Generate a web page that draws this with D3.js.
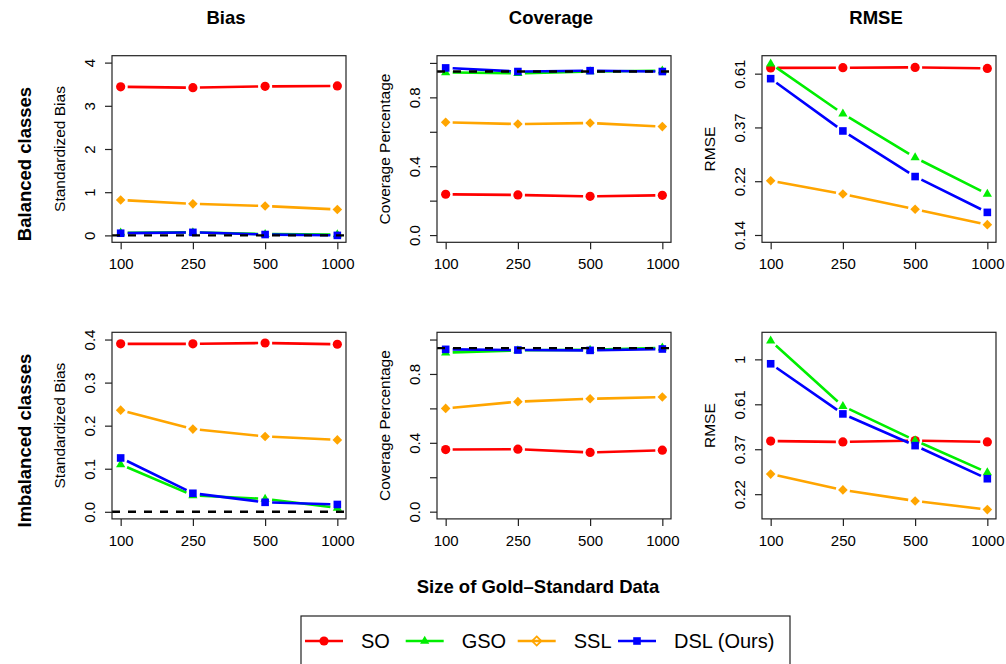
<!DOCTYPE html>
<html>
<head>
<meta charset="utf-8">
<script src="https://cdn.jsdelivr.net/npm/d3@7"></script>
<style>
  body { margin: 0; background: #fff; }
  svg { font-family: "Liberation Sans", Arial, Helvetica, sans-serif; }
</style>
</head>
<body>
<div id="chart"></div>
<script>
// data
var sizes = ['100', '250', '500', '1000'];
var methods = ['SO', 'GSO', 'SSL', 'DSL (Ours)'];
var rows = ['Balanced classes', 'Imbalanced classes'];
var metrics = ['Bias', 'Coverage', 'RMSE'];

// each panel: one array per method, in the order SO, GSO, SSL, DSL
var biasBalanced = [
    [3.44, 3.42, 3.45, 3.46],
    [0.06, 0.07, 0.03, 0.02],
    [0.82, 0.73, 0.68, 0.60],
    [0.05, 0.07, 0.02, 0.00]
];
var coverageBalanced = [
    [0.237, 0.233, 0.225, 0.231],
    [0.945, 0.940, 0.950, 0.955],
    [0.655, 0.645, 0.651, 0.630],
    [0.971, 0.950, 0.955, 0.950]
];
var rmseBalanced = [
    [0.640, 0.641, 0.643, 0.637],
    [0.666, 0.418, 0.278, 0.198],
    [0.224, 0.198, 0.172, 0.149],
    [0.579, 0.356, 0.233, 0.167]
];
var biasImbalanced = [
    [0.390, 0.390, 0.392, 0.389],
    [0.110, 0.038, 0.030, 0.009],
    [0.236, 0.192, 0.175, 0.167],
    [0.125, 0.043, 0.022, 0.017]
];
var coverageImbalanced = [
    [0.361, 0.363, 0.344, 0.357],
    [0.924, 0.937, 0.940, 0.952],
    [0.600, 0.639, 0.656, 0.666],
    [0.943, 0.939, 0.937, 0.945]
];
var rmseImbalanced = [
    [0.403, 0.399, 0.405, 0.399],
    [1.230, 0.594, 0.406, 0.284],
    [0.279, 0.234, 0.207, 0.188],
    [0.952, 0.545, 0.383, 0.265]
];

// tick values and labels
var biasBalancedTicks = [0, 1, 2, 3, 4];
var biasBalancedLabels = ['0', '1', '2', '3', '4'];
var biasImbalancedTicks = [0, 0.1, 0.2, 0.3, 0.4];
var biasImbalancedLabels = ['0.0', '0.1', '0.2', '0.3', '0.4'];
var coverageTicks = [0, 0.2, 0.4, 0.6, 0.8, 1.0];
var coverageLabels = ['0.0', '', '0.4', '', '0.8', ''];
// RMSE axis is on the log scale, ticks at exp(-2), exp(-1.5), ...
var rmseBalancedTicks = [-2, -1.5, -1, -0.5].map(Math.exp);
var rmseBalancedLabels = ['0.14', '0.22', '0.37', '0.61'];
var rmseImbalancedTicks = [-1.5, -1, -0.5, 0].map(Math.exp);
var rmseImbalancedLabels = ['0.22', '0.37', '0.61', '1'];

var coverageTarget = 0.95;

var colors = ['#ff0000', '#00ee00', '#ffa500', '#0000ff'];

// layout
var width = 1006,
    height = 664,
    colLeft = [112, 437, 762],
    rowTop = [55.7, 332.3],
    panelW = 234,
    panelH = 186.6,
    tickLen = 7,
    gap = 7;

var panels = [
    { row: 0, col: 0, values: biasBalanced, domain: [-0.16, 4.16], log: false,
      ticks: biasBalancedTicks, labels: biasBalancedLabels, ylab: 'Standardized Bias', ref: 0 },
    { row: 0, col: 1, values: coverageBalanced, domain: [-0.042, 1.042], log: false,
      ticks: coverageTicks, labels: coverageLabels, ylab: 'Coverage Percentage', ref: coverageTarget },
    { row: 0, col: 2, values: rmseBalanced, domain: [Math.exp(-2.068), Math.exp(-0.333)], log: true,
      ticks: rmseBalancedTicks, labels: rmseBalancedLabels, ylab: 'RMSE', ref: null },
    { row: 1, col: 0, values: biasImbalanced, domain: [-0.0165, 0.4168], log: false,
      ticks: biasImbalancedTicks, labels: biasImbalancedLabels, ylab: 'Standardized Bias', ref: 0 },
    { row: 1, col: 1, values: coverageImbalanced, domain: [-0.042, 1.042], log: false,
      ticks: coverageTicks, labels: coverageLabels, ylab: 'Coverage Percentage', ref: coverageTarget },
    { row: 1, col: 2, values: rmseImbalanced, domain: [Math.exp(-1.775), Math.exp(0.301)], log: true,
      ticks: rmseImbalancedTicks, labels: rmseImbalancedLabels, ylab: 'RMSE', ref: null }
];

var svg = d3.select('#chart')
    .append('svg')
    .attr('width', width)
    .attr('height', height);

// marker shapes, filled in the panels
function marker(sel, m, open) {
    var c = colors[m];
    if (m === 0) {
        sel.append('circle').attr('r', 4.6).attr('fill', c);
    } else if (m === 1) {
        sel.append('path').attr('d', 'M0,-5.2L4.6,2.8L-4.6,2.8Z').attr('fill', c);
    } else if (m === 2) {
        var d = open ? 'M0,-4.6L4.6,0L0,4.6L-4.6,0Z' : 'M0,-4.8L4.8,0L0,4.8L-4.8,0Z';
        sel.append('path').attr('d', d)
            .attr('fill', open ? 'none' : c)
            .attr('stroke', open ? c : 'none')
            .attr('stroke-width', 1.8);
    } else {
        sel.append('rect').attr('x', -3.8).attr('y', -3.8)
            .attr('width', 7.6).attr('height', 7.6).attr('fill', c);
    }
}

panels.forEach(function(p) {
    var g = svg.append('g')
        .attr('transform', `translate(${colLeft[p.col]},${rowTop[p.row]})`);

    var x = d3.scalePoint().domain(sizes).range([0, panelW]).padding(0.12);
    var y = (p.log ? d3.scaleLog() : d3.scaleLinear())
        .domain(p.domain)
        .range([panelH, 0]);

    var clipId = 'clip' + p.row + p.col;
    g.append('clipPath').attr('id', clipId)
        .append('rect').attr('width', panelW).attr('height', panelH);
    var plot = g.append('g').attr('clip-path', `url(#${clipId})`);

    // lines, broken around each point like R's type = "b"
    p.values.forEach(function(vals, m) {
        var pts = vals.map((v, i) => [x(sizes[i]), y(v)]);
        var d = '';
        for (var i = 0; i < pts.length - 1; i++) {
            var dx = pts[i + 1][0] - pts[i][0],
                dy = pts[i + 1][1] - pts[i][1],
                len = Math.sqrt(dx * dx + dy * dy);
            if (len <= 2 * gap) continue;
            var ux = dx / len, uy = dy / len;
            d += `M${pts[i][0] + ux * gap},${pts[i][1] + uy * gap}` +
                 `L${pts[i + 1][0] - ux * gap},${pts[i + 1][1] - uy * gap}`;
        }
        plot.append('path')
            .attr('d', d)
            .attr('fill', 'none')
            .attr('stroke', colors[m])
            .attr('stroke-width', 2.6);

        plot.selectAll('.pt' + m)
            .data(vals)
            .enter()
            .append('g')
            .attr('transform', (v, i) => `translate(${x(sizes[i])},${y(v)})`)
            .each(function() { marker(d3.select(this), m, false); });
    });

    // reference line
    if (p.ref !== null) {
        plot.append('line')
            .attr('x1', 0).attr('x2', panelW)
            .attr('y1', y(p.ref)).attr('y2', y(p.ref))
            .attr('stroke', '#000')
            .attr('stroke-width', 2.4)
            .attr('stroke-dasharray', '8,8');
    }

    // box
    g.append('rect')
        .attr('width', panelW).attr('height', panelH)
        .attr('fill', 'none')
        .attr('stroke', '#222')
        .attr('stroke-width', 1.2);

    // x axis
    var xAxis = g.append('g')
        .attr('transform', `translate(0,${panelH})`)
        .call(d3.axisBottom(x).tickSize(tickLen).tickSizeOuter(0));
    xAxis.select('.domain').remove();
    xAxis.selectAll('line').attr('stroke', '#222').attr('stroke-width', 1.2);
    xAxis.selectAll('text')
        .attr('y', 21.5).attr('dy', null)
        .attr('dominant-baseline', 'central')
        .attr('font-size', 15)
        .attr('fill', '#000');

    // y axis
    var yAxis = g.append('g')
        .call(d3.axisLeft(y)
            .tickValues(p.ticks)
            .tickFormat((d, i) => p.labels[i])
            .tickSize(tickLen)
            .tickSizeOuter(0));
    yAxis.select('.domain').remove();
    yAxis.selectAll('line').attr('stroke', '#222').attr('stroke-width', 1.2);
    yAxis.selectAll('text')
        .attr('transform', 'rotate(-90)')
        .attr('x', 0).attr('y', -23).attr('dy', null)
        .attr('text-anchor', 'middle')
        .attr('dominant-baseline', 'central')
        .attr('font-size', 15)
        .attr('fill', '#000');

    g.append('text')
        .attr('transform', `translate(-53,${panelH / 2}) rotate(-90)`)
        .attr('text-anchor', 'middle')
        .attr('dominant-baseline', 'central')
        .attr('font-size', 15.5)
        .text(p.ylab);
});

// column titles
svg.selectAll('.coltitle')
    .data(metrics)
    .enter()
    .append('text')
    .attr('x', (d, i) => colLeft[i] + panelW / 2 - 3)
    .attr('y', 17)
    .attr('text-anchor', 'middle')
    .attr('dominant-baseline', 'central')
    .attr('font-size', 18.5)
    .attr('font-weight', 'bold')
    .text(d => d);

// row titles
svg.selectAll('.rowtitle')
    .data(rows)
    .enter()
    .append('text')
    .attr('transform', (d, i) => `translate(24,${rowTop[i] + panelH / 2 + 15}) rotate(-90)`)
    .attr('text-anchor', 'middle')
    .attr('dominant-baseline', 'central')
    .attr('font-size', 18.5)
    .attr('font-weight', 'bold')
    .text(d => d);

// shared x label
svg.append('text')
    .attr('x', 538)
    .attr('y', 586)
    .attr('text-anchor', 'middle')
    .attr('dominant-baseline', 'central')
    .attr('font-size', 18.5)
    .attr('font-weight', 'bold')
    .text('Size of Gold\u2013Standard Data');

// legend
var legend = svg.append('g').attr('transform', 'translate(301,616)');
legend.append('rect')
    .attr('width', 489).attr('height', 70)
    .attr('fill', 'none')
    .attr('stroke', '#222')
    .attr('stroke-width', 1.2);

var itemX = [4, 104.7, 216.7, 317];
var item = legend.selectAll('.item')
    .data(methods)
    .enter()
    .append('g')
    .attr('transform', (d, i) => `translate(${itemX[i]},25)`);
item.append('line')
    .attr('x1', 0).attr('x2', 38)
    .attr('stroke', (d, i) => colors[i])
    .attr('stroke-width', 2.6);
item.append('g')
    .attr('transform', 'translate(19,0)')
    .each(function(d, i) { marker(d3.select(this), i, i === 2); });
item.append('text')
    .attr('x', 56)
    .attr('dominant-baseline', 'central')
    .attr('font-size', 20)
    .text(d => d);
</script>
</body>
</html>
